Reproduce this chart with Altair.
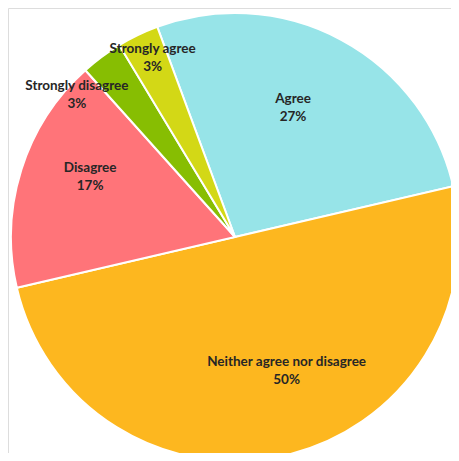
import altair as alt
import pandas as pd
import math

categories = ["Agree", "Neither agree nor disagree", "Disagree", "Strongly disagree", "Strongly agree"]
values = [27, 50, 17, 3, 3]
colors = ["#97E4E8", "#FDB71F", "#FF7479", "#87BE02", "#D3D816"]

df = pd.DataFrame({"cat": categories, "value": values, "order": list(range(len(categories)))})

CX, CY, R = 227, 229, 224
OFF = -20.3 * math.pi / 180
TOTAL = sum(values)

# label placement style (radius fraction, angle adjust in degrees)
lab_r = {"Agree": 0.63, "Neither agree nor disagree": 0.64, "Disagree": 0.70,
         "Strongly disagree": 0.95, "Strongly agree": 0.88}
lab_adj = {"Agree": -4, "Neither agree nor disagree": -8, "Disagree": 5,
           "Strongly disagree": -11.5, "Strongly agree": 1}

def dict_expr(d):
    expr = "0"
    for k, v in d.items():
        expr = f"datum.cat === '{k}' ? {v} : ({expr})"
    return expr

color_scale = alt.Scale(domain=categories, range=colors)

base = alt.Chart(df)

arcs = base.mark_arc(radius=R, stroke="white", strokeWidth=2).encode(
    theta=alt.Theta("value:Q", stack=True,
                    scale=alt.Scale(range=[OFF, OFF + 2 * math.pi])),
    color=alt.Color("cat:N", scale=color_scale, legend=None),
    order=alt.Order("order:Q"),
    x=alt.value(CX),
    y=alt.value(CY),
)

labels = base.transform_window(
    cum="sum(value)", sort=[alt.SortField("order")], frame=[None, 0]
).transform_calculate(
    ang=f"{OFF} + 2*PI*(datum.cum - datum.value/2)/{TOTAL} + ({dict_expr(lab_adj)})*PI/180",
    rr=f"{R}*({dict_expr(lab_r)})",
).transform_calculate(
    lx=f"{CX} + datum.rr*sin(datum.ang)",
    ly=f"{CY} - datum.rr*cos(datum.ang)",
    txt="datum.cat + '\\n' + datum.value + '%'",
).mark_text(
    font="Lato", fontSize=13.5, fontWeight="bold", color="#262626",
    lineBreak="\n", lineHeight=18, align="center", baseline="middle", dy=-9,
).encode(
    x=alt.X("lx:Q", scale=None, axis=None),
    y=alt.Y("ly:Q", scale=None, axis=None),
    text="txt:N",
)

chart = alt.layer(arcs, labels).properties(
    width=443, height=445, padding=0,
    autosize=alt.AutoSizeParams(type="none"),
).configure_view(strokeWidth=0, stroke="transparent").configure(background="white")

chart.save("out.html", embed_options={"renderer": "svg", "actions": False})
